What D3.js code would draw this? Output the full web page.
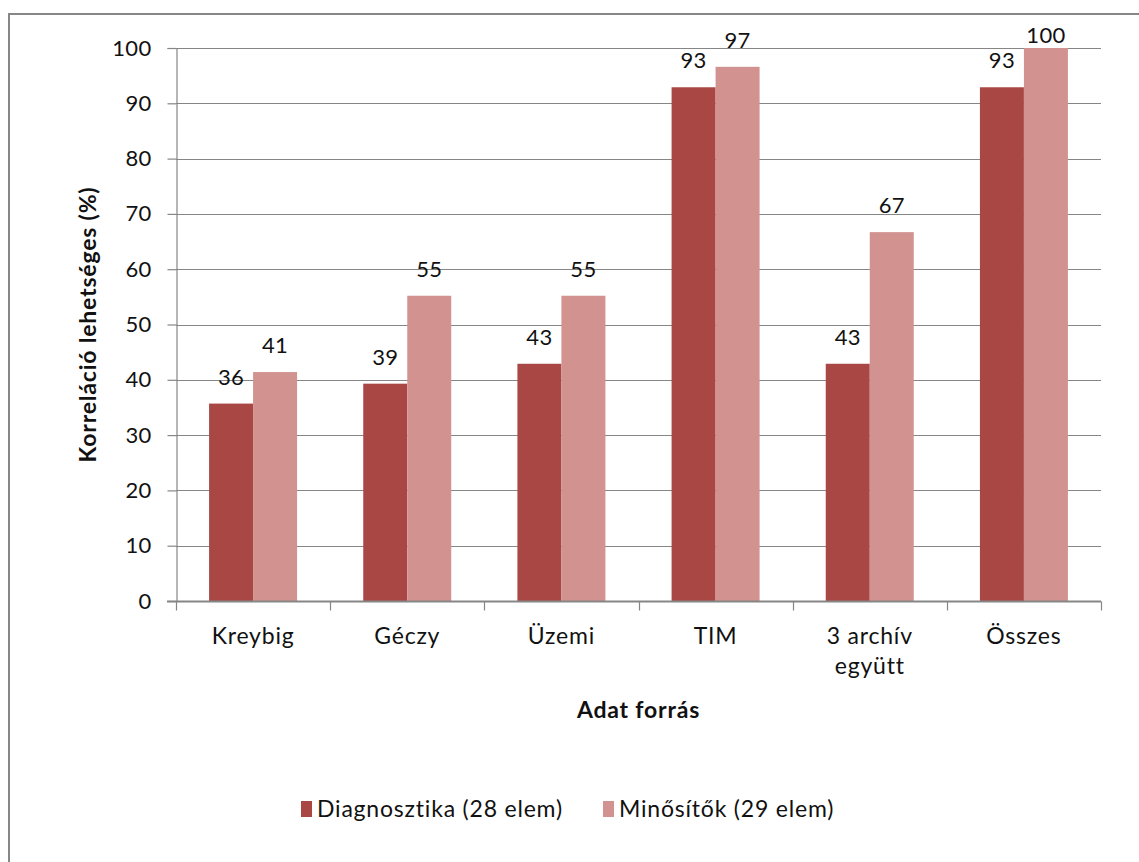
<!DOCTYPE html>
<html>
<head>
<meta charset="utf-8">
<script src="https://cdn.jsdelivr.net/npm/d3@7"></script>
<style>
  html, body { margin: 0; padding: 0; background: #fff; }
  svg { display: block; font-family: Lato, "Open Sans", sans-serif; }
</style>
</head>
<body>
<svg id="chart" width="1139" height="862"></svg>
<script>
// Categories (data sources) and correlation shares per series, in percent
const categories = ["Kreybig", "Géczy", "Üzemi", "TIM", "3 archív\negyütt", "Összes"];
const diagnosztika = [35.7, 39.3, 42.9, 92.9, 42.9, 92.9];
const minositok = [41.4, 55.2, 55.2, 96.6, 66.7, 100];
const seriesNames = ["Diagnosztika (28 elem)", "Minősítők (29 elem)"];
const seriesColors = ["#A94745", "#D29290"];
const yTicks = [0, 10, 20, 30, 40, 50, 60, 70, 80, 90, 100];

const svg = d3.select("#chart");

// Outer chart frame
svg.append("rect")
  .attr("x", 9).attr("y", 14)
  .attr("width", 1139).attr("height", 862)
  .attr("fill", "none").attr("stroke", "#878787").attr("stroke-width", 2);

const plot = { left: 176, right: 1101, top: 48, bottom: 601 };

const x = d3.scaleBand()
  .domain(categories)
  .range([plot.left, plot.right])
  .paddingInner(0).paddingOuter(0);

const y = d3.scaleLinear().domain([0, 100]).range([plot.bottom, plot.top]);

const barW = 44;
const inner = d3.scaleBand().domain([0, 1]).range([0, barW * 2]);

// Gridlines
svg.append("g")
  .selectAll("line")
  .data(yTicks.filter(t => t > 0))
  .join("line")
  .attr("x1", plot.left).attr("x2", plot.right)
  .attr("y1", d => Math.round(y(d)) + 0.5).attr("y2", d => Math.round(y(d)) + 0.5)
  .attr("stroke", "#868686").attr("stroke-width", 1.2);

// Y axis
const yAxis = svg.append("g")
  .attr("transform", `translate(${plot.left + 0.5},0)`)
  .call(d3.axisLeft(y).tickValues(yTicks).tickSize(9).tickPadding(16));
yAxis.select(".domain").attr("stroke", "#868686").attr("stroke-width", 1.2);
yAxis.selectAll(".tick line").attr("stroke", "#868686").attr("stroke-width", 1.2);
yAxis.selectAll(".tick text")
  .attr("font-size", 22).attr("letter-spacing", 0.3)
  .attr("fill", "#111").attr("font-family", "Lato, sans-serif");

// Bars
const rows = categories.map((c, i) => ({ cat: c, vals: [diagnosztika[i], minositok[i]] }));
const groups = svg.append("g")
  .selectAll("g")
  .data(rows)
  .join("g")
  .attr("transform", d => `translate(${x(d.cat) + (x.bandwidth() - barW * 2) / 2},0)`);

groups.selectAll("rect")
  .data(d => d.vals.map((v, s) => ({ v, s })))
  .join("rect")
  .attr("x", d => inner(d.s))
  .attr("width", inner.bandwidth())
  .attr("y", d => y(d.v))
  .attr("height", d => y(0) - y(d.v))
  .attr("fill", d => seriesColors[d.s]);

// Value labels, kept inside the chart area at the top
groups.selectAll("text")
  .data(d => d.vals.map((v, s) => ({ v, s })))
  .join("text")
  .attr("x", d => inner(d.s) + inner.bandwidth() / 2)
  .attr("y", d => Math.max(y(d.v) - 19, 43))
  .attr("text-anchor", "middle")
  .attr("font-size", 22).attr("letter-spacing", 0.3)
  .attr("fill", "#111")
  .text(d => d3.format(".0f")(d.v));

// X axis line and category ticks
const xAxis = svg.append("g").attr("transform", `translate(0,${plot.bottom + 0.5})`);
xAxis.append("line")
  .attr("x1", plot.left - 9).attr("x2", plot.right)
  .attr("stroke", "#868686").attr("stroke-width", 2);
xAxis.selectAll("line.tick")
  .data(categories.map(c => x(c)).concat([plot.right]))
  .join("line")
  .attr("class", "tick")
  .attr("x1", d => Math.round(d) + 0.5).attr("x2", d => Math.round(d) + 0.5)
  .attr("y1", 0).attr("y2", 9)
  .attr("stroke", "#868686").attr("stroke-width", 1.2);

// Category labels (multi-line where needed)
const catText = svg.append("g")
  .selectAll("text")
  .data(categories)
  .join("text")
  .attr("x", d => x(d) + x.bandwidth() / 2)
  .attr("y", 644)
  .attr("text-anchor", "middle")
  .attr("font-size", 23).attr("letter-spacing", 0.8)
  .attr("fill", "#111");
catText.each(function(d) {
  const lines = d.split("\n");
  d3.select(this).selectAll("tspan")
    .data(lines)
    .join("tspan")
    .attr("x", x(d) + x.bandwidth() / 2)
    .attr("dy", (l, i) => i === 0 ? 0 : 30)
    .text(l => l);
});

// Axis titles
svg.append("text")
  .attr("x", (plot.left + plot.right) / 2)
  .attr("y", 718)
  .attr("text-anchor", "middle")
  .attr("font-size", 23).attr("letter-spacing", 0.8)
  .attr("font-weight", "bold").attr("fill", "#111")
  .text("Adat forrás");

svg.append("text")
  .attr("transform", `translate(96,${(plot.top + plot.bottom) / 2}) rotate(-90)`)
  .attr("text-anchor", "middle")
  .attr("font-size", 23).attr("letter-spacing", 0.8)
  .attr("font-weight", "bold").attr("fill", "#111")
  .text("Korreláció lehetséges (%)");

// Legend
const legendX = [301, 603];
const legend = svg.append("g")
  .selectAll("g")
  .data(seriesNames)
  .join("g")
  .attr("transform", (d, i) => `translate(${legendX[i]},801)`);
legend.append("rect")
  .attr("width", 11).attr("height", 16)
  .attr("fill", (d, i) => seriesColors[i]);
legend.append("text")
  .attr("x", 16).attr("y", 16)
  .attr("font-size", 23).attr("letter-spacing", 0.8)
  .attr("fill", "#111")
  .text(d => d);
</script>
</body>
</html>
